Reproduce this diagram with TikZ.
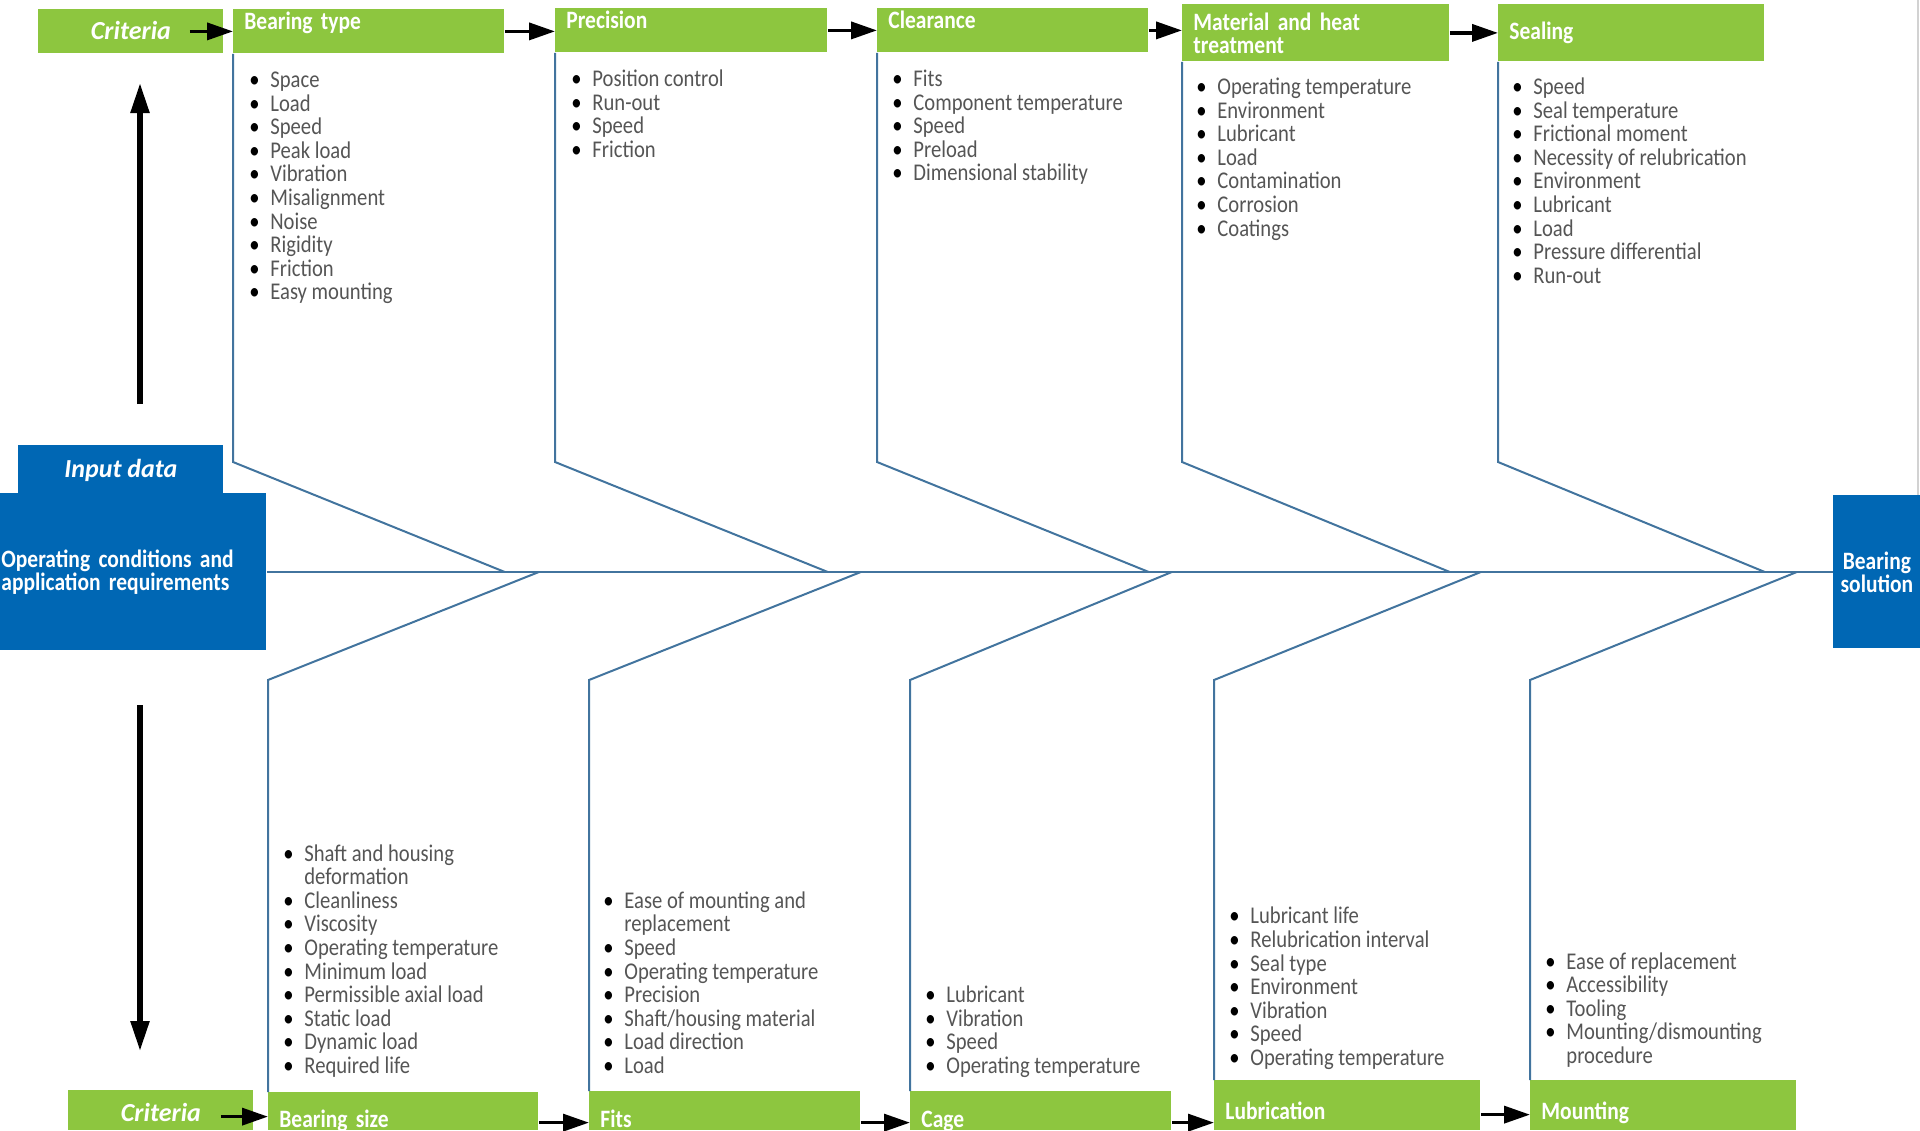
\documentclass[tikz,border=0pt]{standalone}
\usepackage{fontspec}
\setmainfont{Carlito}
\newfontfamily\condfont[FakeStretch=0.86]{Carlito}
\usetikzlibrary{arrows.meta}
\definecolor{skfgreen}{RGB}{141,198,63}
\definecolor{skfblue}{RGB}{0,103,180}
\definecolor{bonecol}{RGB}{66,116,158}
\definecolor{lstgray}{RGB}{85,85,85}
\newcommand{\bl}[1]{\strut\makebox[16pt][c]{\color{black}\textbullet}#1}
\newcommand{\bc}[1]{\strut\hspace*{16pt}#1}
\newcommand{\lstfont}{\condfont\fontsize{12}{11.8}\selectfont\lineskiplimit=-20pt}
\newcommand{\hdrfont}{\condfont\bfseries\fontsize{12.5}{11.5}\selectfont\spaceskip=2.6pt}
\newcommand{\tagfont}{\bfseries\itshape\fontsize{13}{15}\selectfont}
\begin{document}
\begin{tikzpicture}[x=0.5pt, y=-0.5pt,
  hdr/.style={fill=skfgreen, text=white, font=\hdrfont, align=left, inner xsep=5.5pt, inner ysep=0pt, anchor=north west},
  tag/.style={fill=#1, text=white, font=\tagfont, inner sep=0pt, anchor=north west},
  lst/.style={font=\lstfont, text=lstgray, align=left, inner sep=0pt},
  bone/.style={draw=bonecol, line width=1pt},
  arr/.style={-{Triangle[length=13pt,width=8.5pt]}, line width=1.8pt},
  bigarr/.style={-{Triangle[length=15pt,width=9pt]}, line width=2.7pt}]
\useasboundingbox (0,0) rectangle (1920,1130);

\node[tag=skfgreen, minimum width=92.5pt, text height=15pt, text depth=7pt] (critT) at (38,9) {Criteria};
\node[hdr, text width=124.5pt, text height=10pt, text depth=12pt] (bt) at (233,9) {Bearing type};
\node[hdr, text width=125pt, text height=10pt, text depth=12pt] (pr) at (555,8) {Precision};
\node[hdr, text width=124.5pt, text height=10pt, text depth=12pt] (cl) at (877,8) {Clearance};
\node[hdr, text width=122.5pt, minimum height=28.5pt] (ma) at (1182,4) {Material and heat\\treatment};
\node[hdr, text width=122pt, minimum height=28.5pt] (se) at (1498,4) {Sealing};

\node[tag=skfgreen, minimum width=92.5pt, text height=15.5pt, text depth=4.5pt] (critB) at (68,1090) {Criteria};
\node[hdr, text width=124pt, text height=17.5pt, text depth=1.5pt] (bs) at (268,1092) {Bearing size};
\node[hdr, text width=124.5pt, text height=18pt, text depth=1.5pt] (fi) at (589,1091) {Fits};
\node[hdr, text width=119.5pt, text height=18pt, text depth=1.5pt] (ca) at (910,1091) {Cage};
\node[hdr, text width=122pt, text height=19.5pt, text depth=5.5pt] (lu) at (1214,1080) {Lubrication};
\node[hdr, text width=122pt, text height=19.5pt, text depth=5.5pt] (mo) at (1530,1080) {Mounting};

\node[tag=skfblue, minimum width=102.5pt, text height=16pt, text depth=8pt] (inp) at (18,445) {Input data};
\node[fill=skfblue, text=white, font=\hdrfont, align=left, text width=132pt, inner xsep=0.5pt, inner ysep=0pt, minimum height=78.5pt, anchor=north west] (op) at (0,493) {Operating conditions and\\application requirements};
\node[fill=skfblue, text=white, font=\hdrfont, align=center, text width=42.5pt, inner xsep=0.5pt, inner ysep=0pt, minimum height=76.5pt, anchor=north west] (sol) at (1833,495) {Bearing\\solution};

\node[lst, anchor=north west] (btl) at (238,70.5) {\bl{Space}\\\bl{Load}\\\bl{Speed}\\\bl{Peak load}\\\bl{Vibration}\\\bl{Misalignment}\\\bl{Noise}\\\bl{Rigidity}\\\bl{Friction}\\\bl{Easy mounting}};
\node[lst, anchor=north west] (prl) at (560,69.5) {\bl{Position control}\\\bl{Run-out}\\\bl{Speed}\\\bl{Friction}};
\node[lst, anchor=north west] (cll) at (881,69.5) {\bl{Fits}\\\bl{Component temperature}\\\bl{Speed}\\\bl{Preload}\\\bl{Dimensional stability}};
\node[lst, anchor=north west] (mal) at (1185,77.5) {\bl{Operating temperature}\\\bl{Environment}\\\bl{Lubricant}\\\bl{Load}\\\bl{Contamination}\\\bl{Corrosion}\\\bl{Coatings}};
\node[lst, anchor=north west] (sel) at (1501,77.5) {\bl{Speed}\\\bl{Seal temperature}\\\bl{Frictional moment}\\\bl{Necessity of relubrication}\\\bl{Environment}\\\bl{Lubricant}\\\bl{Load}\\\bl{Pressure differential}\\\bl{Run-out}};

\node[lst, anchor=south west] (bsl) at (272,1081) {\bl{Shaft and housing}\\\bc{deformation}\\\bl{Cleanliness}\\\bl{Viscosity}\\\bl{Operating temperature}\\\bl{Minimum load}\\\bl{Permissible axial load}\\\bl{Static load}\\\bl{Dynamic load}\\\bl{Required life}};
\node[lst, anchor=south west] (fil) at (592,1081) {\bl{Ease of mounting and}\\\bc{replacement}\\\bl{Speed}\\\bl{Operating temperature}\\\bl{Precision}\\\bl{Shaft/housing material}\\\bl{Load direction}\\\bl{Load}};
\node[lst, anchor=south west] (cal) at (914,1081) {\bl{Lubricant}\\\bl{Vibration}\\\bl{Speed}\\\bl{Operating temperature}};
\node[lst, anchor=south west] (lul) at (1218,1073) {\bl{Lubricant life}\\\bl{Relubrication interval}\\\bl{Seal type}\\\bl{Environment}\\\bl{Vibration}\\\bl{Speed}\\\bl{Operating temperature}};
\node[lst, anchor=south west] (mol) at (1534,1071) {\bl{Ease of replacement}\\\bl{Accessibility}\\\bl{Tooling}\\\bl{Mounting/dismounting}\\\bc{procedure}};

\coordinate (kt) at (0,462);
\coordinate (kb) at (0,680);
\coordinate (sp) at (0,572);
\draw[bone] (op.east |- sp) -- (sol.west |- sp);
\draw[bone] (bt.south west) -- (bt.south west |- kt) -- (bt.south east |- sp);
\draw[bone] (pr.south west) -- (pr.south west |- kt) -- (pr.south east |- sp);
\draw[bone] (cl.south west) -- (cl.south west |- kt) -- (cl.south east |- sp);
\draw[bone] (ma.south west) -- (ma.south west |- kt) -- (ma.south east |- sp);
\draw[bone] (se.south west) -- (se.south west |- kt) -- (se.south east |- sp);
\draw[bone] (bs.north west) -- (bs.north west |- kb) -- (bs.north east |- sp);
\draw[bone] (fi.north west) -- (fi.north west |- kb) -- (fi.north east |- sp);
\draw[bone] (ca.north west) -- (ca.north west |- kb) -- (ca.north east |- sp);
\draw[bone] (lu.north west) -- (lu.north west |- kb) -- (lu.north east |- sp);
\draw[bone] (mo.north west) -- (mo.north west |- kb) -- (mo.north east |- sp);

\coordinate (rt) at (1918,0);
\draw[gray!35, line width=1pt] (rt) -- (rt |- sol.north);

\draw[arr] ([xshift=-17pt]critT.east) -- (critT.east -| bt.west);
\draw[arr] (bt.east) -- (bt.east -| pr.west);
\draw[arr] (pr.east) -- (pr.east -| cl.west);
\draw[arr] (cl.east) -- (cl.east -| ma.west);
\draw[arr] (ma.east) -- (ma.east -| se.west);
\draw[arr] ([xshift=-16.5pt]critB.mid east) -- (critB.mid east -| bs.west);
\draw[arr] (bs.mid east) -- (bs.mid east -| fi.west);
\draw[arr] (fi.mid east) -- (fi.mid east -| ca.west);
\draw[arr] (ca.mid east) -- (ca.mid east -| lu.west);
\draw[arr] (lu.mid east) -- (lu.mid east -| mo.west);

\coordinate (upS) at (140,404);
\coordinate (upE) at (140,83);
\coordinate (dnS) at (140,705);
\coordinate (dnE) at (140,1051);
\draw[bigarr] (upS) -- (upE);
\draw[bigarr] (dnS) -- (dnE);
\end{tikzpicture}
\end{document}
